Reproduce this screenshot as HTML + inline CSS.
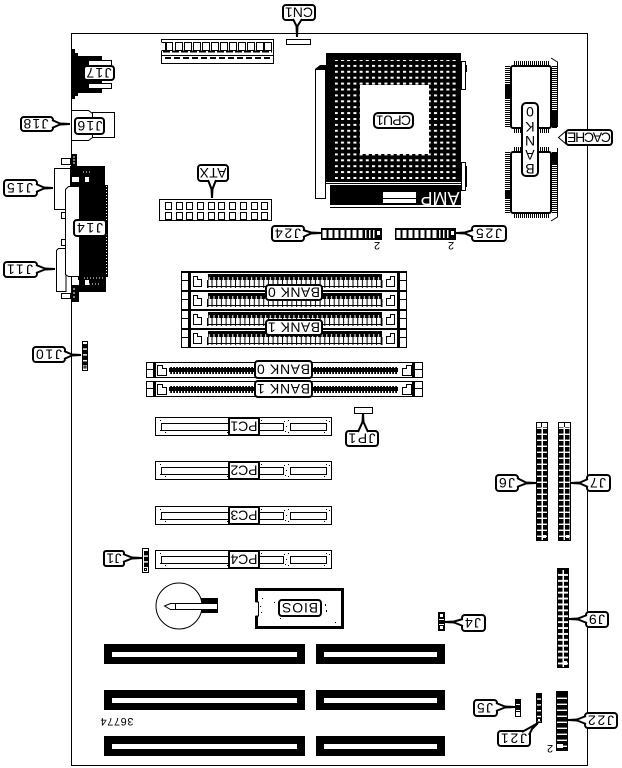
<!DOCTYPE html>
<html><head><meta charset="utf-8"><style>
html,body{margin:0;padding:0;background:#fff;width:622px;height:768px;overflow:hidden}
svg{display:block}
text{font-family:"Liberation Sans",sans-serif;font-size:14px;text-anchor:middle;fill:#000}
.l rect,.l path{fill:#fff;stroke:#000;stroke-width:2}
.o{fill:#fff;stroke:#000;stroke-width:1}
.n{fill:none;stroke:#000;stroke-width:1}
.k{fill:#000}
.w{fill:#fff}
</style></head><body>
<svg width="622" height="768" viewBox="0 0 622 768" xmlns="http://www.w3.org/2000/svg">
<defs>
<pattern id="dots" width="6.2" height="5.9" patternUnits="userSpaceOnUse"><rect width="3" height="2" fill="#fff"/></pattern>
<pattern id="p2" width="6" height="6" patternUnits="userSpaceOnUse"><rect width="6" height="6" fill="#fff"/><rect width="4.5" height="4.6" fill="#000"/></pattern>
<pattern id="p2b" width="6" height="5.9" patternUnits="userSpaceOnUse"><rect width="6" height="5.9" fill="#fff"/><rect width="4.5" height="4" fill="#000"/></pattern>
<pattern id="p1" width="6" height="5.8" patternUnits="userSpaceOnUse"><rect width="6" height="5.8" fill="#fff"/><rect width="6" height="4.4" fill="#000"/></pattern>
<pattern id="p3" width="12" height="6" patternUnits="userSpaceOnUse"><rect width="12" height="6" fill="#fff"/><rect width="12" height="4.6" fill="#000"/></pattern>
<pattern id="hd" width="6" height="8" patternUnits="userSpaceOnUse"><rect width="6" height="8" fill="#000"/><rect x="0.500" width="4" height="8" fill="#fff"/></pattern>
<pattern id="hd2" width="4" height="8" patternUnits="userSpaceOnUse"><rect width="4" height="8" fill="#000"/><rect x="1" width="1.500" height="8" fill="#fff"/></pattern>
<pattern id="dc" width="4.7" height="6" patternUnits="userSpaceOnUse"><rect width="4.7" height="6" fill="#000"/><rect x="2" y="0" width="1" height="3" fill="#fff"/></pattern>
<pattern id="ds" width="4.7" height="8" patternUnits="userSpaceOnUse"><rect width="4.7" height="8" fill="#fff"/><rect width="1" height="8" fill="#000"/><rect width="4.7" height="1" y="7" fill="#000"/></pattern>
<pattern id="sc" width="3" height="7" patternUnits="userSpaceOnUse"><rect width="3" height="7" fill="#000"/><rect x="1" y="3" width="1.2" height="3" fill="#fff"/></pattern>
<pattern id="pinv" width="2" height="6" patternUnits="userSpaceOnUse"><rect width="1" height="6" fill="#000"/><rect x="1" width="1" height="6" fill="#fff"/></pattern>
<pattern id="pinh" width="6" height="2" patternUnits="userSpaceOnUse"><rect width="6" height="1" fill="#000"/><rect y="1" width="6" height="1" fill="#fff"/></pattern>
<g id="dimm">
 <rect x="181.500" y="0.500" width="225" height="19" class="n"/>
 <rect x="181" y="0" width="226" height="2" class="k"/>
 <path class="n" d="M181 9.500H189M188.500 0V19M399.500 0V19M399 9.500H407"/>
 <rect x="189" y="1" width="2" height="18" class="k"/>
 <rect x="397" y="1" width="2" height="18" class="k"/>
 <path class="o" d="M193.500 5.500H197.500V8.500H201.500V15.500H193.500Z"/>
 <path class="o" d="M394.500 5.500H390.500V8.500H386.500V15.500H394.500Z"/>
 <rect x="208" y="3" width="174" height="6" fill="url(#dc)"/>
 <rect x="207" y="9" width="175" height="8" fill="url(#ds)"/>
 <rect x="207" y="9" width="1.500" height="8" class="k"/>
 <rect x="381" y="9" width="1.500" height="8" class="k"/>
</g>
<g id="simm">
 <rect x="146.500" y="0.500" width="276" height="15" class="o"/>
 <path class="n" d="M146 7.500H155M414 7.500H423"/>
 <rect x="153" y="1" width="3" height="14" class="k"/>
 <rect x="412" y="1" width="3" height="14" class="k"/>
 <path class="o" d="M157.500 3.500H162.500V6.500H166.500V13.500H157.500Z"/>
 <path class="o" d="M411.500 3.500H406.500V6.500H402.500V13.500H411.500Z"/>
 <rect x="169" y="5" width="229" height="7" fill="url(#sc)"/>
</g>
<g id="pci">
 <rect x="155.500" y="0.500" width="176" height="18" class="o"/>
 <rect x="161.500" y="6.500" width="67" height="7" class="o"/>
 <rect x="259.500" y="6.500" width="24" height="7" class="o"/>
 <rect x="290.500" y="6.500" width="36" height="7" class="o"/>
 <path d="M160 3h1v1h-1zM160 13h1v1h-1zM228 2h1v1h-1zM227 15h1v1h-1zM284 4h1v1h-1zM286 9h1v1h-1zM285 14h1v1h-1zM261 3h1v1h-1zM324 15h1v1h-1zM329 4h1v1h-1zM165 15h1v1h-1zM288 3h1v1h-1zM288 15h1v1h-1zM326 3h1v1h-1z" class="k"/>
</g>
</defs>

<!-- board outline -->
<path d="M71.500 33.500H587.500V765.500H71.500Z" fill="none" stroke="#000" stroke-width="1"/>

<!-- top connector -->
<rect x="161.500" y="39.500" width="112" height="24" class="o"/>
<rect x="161" y="42" width="4" height="9" class="w"/>
<path class="n" d="M161.500 42.500H165.500V50.500H161.500M161 55.500H274"/>
<g class="o">
<rect x="166.500" y="42.500" width="6" height="8"/><rect x="175.500" y="42.500" width="7" height="8"/><rect x="184.500" y="42.500" width="7" height="8"/><rect x="193.500" y="42.500" width="7" height="8"/><rect x="202.500" y="42.500" width="7" height="8"/><rect x="211.500" y="42.500" width="7" height="8"/><rect x="220.500" y="42.500" width="7" height="8"/><rect x="229.500" y="42.500" width="7" height="8"/><rect x="238.500" y="42.500" width="7" height="8"/><rect x="247.500" y="42.500" width="7" height="8"/><rect x="256.500" y="42.500" width="7" height="8"/><rect x="264.500" y="42.500" width="7" height="8"/>
</g>
<path d="M163 51.500H272" stroke="#000" stroke-width="2" stroke-dasharray="7 2" fill="none"/>
<path d="M165 58H272" stroke="#000" stroke-width="2" stroke-dasharray="6 3" fill="none"/>

<rect x="286.500" y="39.500" width="24" height="5" class="o"/>

<!-- J17 -->
<path class="k" d="M71 49H75V53H78V56H102V93H78V96H75V99H71Z"/>
<rect x="88.500" y="60.500" width="23" height="5" class="o"/>
<rect x="88.500" y="83.500" width="23" height="5" class="o"/>

<!-- J16 -->
<rect x="92.500" y="112.500" width="22" height="25" class="o"/>
<path class="o" d="M71.500 110.500H88.500L92.500 113.500V137.500L88.500 140.500H71.500Z"/>

<!-- J14/J15/J11 cluster -->
<path class="k" d="M78 166H105V185H108V277H106V292H78Z"/>
<rect x="72" y="154" width="5" height="13" class="k"/>
<rect x="70" y="166" width="10" height="20" class="k"/>
<rect x="72" y="285" width="7" height="17" class="k"/>
<path d="M106.500 186V276" stroke="#fff" stroke-width="1" stroke-dasharray="1 2" fill="none"/>
<path d="M83 172H92M84 278H104M86 284H100M83 236H106" stroke="#fff" stroke-width="1" stroke-dasharray="1 2" fill="none"/>
<rect x="72" y="177" width="7" height="5" class="w"/><rect x="85" y="177" width="4" height="5" class="w"/>
<rect x="72" y="280" width="7" height="5" class="w"/><rect x="85" y="280" width="4" height="5" class="w"/>
<path d="M73 157h2M73 160h2M73 163h2M73 289h2M73 293h2M73 297h2" stroke="#fff" stroke-width="1" fill="none"/>
<rect x="54.500" y="168.500" width="16" height="41" class="o"/>
<path class="o" d="M58.500 248.500H66V291.500H56.500V250.500Z"/>
<rect x="61.500" y="158.500" width="9" height="6" class="o"/>
<rect x="61.500" y="212.500" width="4" height="6" class="o"/>
<rect x="61.500" y="239.500" width="4" height="6" class="o"/>
<rect x="61.500" y="293.500" width="9" height="5" class="o"/>
<path d="M68.500 186.500H79.500V276.500H68.500L65.500 274.500V189.500Z" class="o"/>
<rect x="79" y="186" width="1.500" height="92" class="k"/>

<!-- J10 -->
<rect x="82.500" y="341.500" width="5" height="29" class="o"/>
<rect transform="translate(83,344)" width="4" height="21" fill="url(#p1)"/>
<rect x="84" y="366" width="2" height="2" class="o"/>

<!-- ATX -->
<rect x="159.500" y="199.500" width="112" height="21" class="o"/>
<g class="o">
<rect x="165.500" y="202.500" width="6" height="7"/><rect x="176.500" y="202.500" width="6" height="7"/><rect x="186.500" y="202.500" width="6" height="7"/><rect x="197.500" y="202.500" width="6" height="7"/><rect x="208.500" y="202.500" width="6" height="7"/><rect x="218.500" y="202.500" width="6" height="7"/><rect x="229.500" y="202.500" width="6" height="7"/><rect x="240.500" y="202.500" width="6" height="7"/><rect x="251.500" y="202.500" width="6" height="7"/><rect x="261.500" y="202.500" width="6" height="7"/>
<rect x="165.500" y="212.500" width="6" height="7"/><rect x="176.500" y="212.500" width="6" height="7"/><rect x="186.500" y="212.500" width="6" height="7"/><rect x="197.500" y="212.500" width="6" height="7"/><rect x="208.500" y="212.500" width="6" height="7"/><rect x="218.500" y="212.500" width="6" height="7"/><rect x="229.500" y="212.500" width="6" height="7"/><rect x="240.500" y="212.500" width="6" height="7"/><rect x="251.500" y="212.500" width="6" height="7"/><rect x="261.500" y="212.500" width="6" height="7"/>
</g>

<!-- CPU -->
<rect x="326" y="53" width="135" height="129" class="k"/>
<rect x="335" y="60" width="122" height="119" fill="url(#dots)"/>
<rect x="360" y="85" width="69" height="69" class="w"/>
<rect x="315.500" y="69.500" width="10" height="129" class="o"/>
<path class="k" d="M315 69L320 65H326V69Z"/>
<rect x="461.500" y="61.500" width="4" height="28" class="o"/>
<rect x="465" y="65" width="2" height="7" class="k"/>
<rect x="461.500" y="162.500" width="4" height="28" class="o"/>
<rect x="465" y="166" width="2" height="21" class="k"/>
<rect x="330" y="185" width="131" height="20" class="k"/>
<rect x="330" y="207" width="131" height="1" class="k"/>
<rect x="326" y="183" width="135" height="1" class="k"/>
<rect x="383" y="192" width="33" height="11" class="w"/>
<rect x="383" y="198" width="33" height="1" class="k"/>
<text transform="rotate(180 440 198)" x="440" y="204" style="fill:#fff;font-size:18px" textLength="39">AMP</text>

<!-- J24 J25 -->
<rect x="321" y="228" width="61" height="12" class="k"/>
<rect transform="translate(322,230)" width="42" height="8" fill="url(#hd)"/>
<rect transform="translate(364,230)" width="12" height="8" fill="url(#hd2)"/>
<rect x="377" y="231" width="3" height="4" class="w"/>
<rect x="395" y="228" width="61" height="12" class="k"/>
<rect transform="translate(396,230)" width="42" height="8" fill="url(#hd)"/>
<rect transform="translate(438,230)" width="12" height="8" fill="url(#hd2)"/>
<rect x="451" y="231" width="3" height="4" class="w"/>
<text transform="rotate(180 377 246)" x="377" y="250" style="font-size:11px">2</text>
<text transform="rotate(180 451 246)" x="451" y="250" style="font-size:11px">2</text>

<!-- cache chips -->
<rect x="505" y="66" width="5" height="62" fill="url(#pinh)"/>
<rect x="552" y="66" width="5" height="62" fill="url(#pinh)"/>
<rect x="505" y="152" width="5" height="61" fill="url(#pinh)"/>
<rect x="552" y="152" width="5" height="61" fill="url(#pinh)"/>
<rect x="513" y="61" width="37" height="4" fill="url(#pinv)"/>
<rect x="513" y="129" width="37" height="4" fill="url(#pinv)"/>
<rect x="513" y="147" width="37" height="4" fill="url(#pinv)"/>
<rect x="513" y="214" width="37" height="4" fill="url(#pinv)"/>
<rect x="505" y="85" width="5" height="14" class="k"/>
<rect x="552" y="110" width="5" height="18" class="k"/>
<rect x="505" y="190" width="5" height="8" class="k"/>
<rect x="552" y="152" width="5" height="12" class="k"/>
<rect x="511" y="66" width="40" height="62" rx="2" fill="#fff" stroke="#000" stroke-width="2"/>
<rect x="511" y="152" width="40" height="61" rx="2" fill="#fff" stroke="#000" stroke-width="2"/>
<path class="n" d="M551 58L557.500 62V127M557.500 148V217L551 221"/>
<path d="M566 131L558.500 137.500L566 144" fill="#fff" stroke="#000" stroke-width="1"/>

<!-- DIMM -->
<use href="#dimm" y="271"/><use href="#dimm" y="290"/><use href="#dimm" y="309"/><use href="#dimm" y="328"/>
<!-- SIMM -->
<use href="#simm" y="362"/><use href="#simm" y="381"/>
<!-- PCI -->
<use href="#pci" y="417"/><use href="#pci" y="461"/><use href="#pci" y="506"/><use href="#pci" y="550"/>

<!-- JP1 -->
<rect x="354.500" y="407.500" width="18" height="6" class="o"/>

<!-- J1 -->
<rect x="142.500" y="548.500" width="6" height="24" class="o"/>
<rect transform="translate(144,551)" width="4" height="17" fill="url(#p1)"/>
<rect x="144.500" y="568.500" width="2" height="2" class="o"/>

<!-- battery -->
<circle cx="179" cy="606" r="23" class="o"/>
<rect x="201" y="598" width="17" height="15" class="k"/>
<path class="o" d="M217.500 603.500H170.500L164.500 606L170.500 609.500H217.500Z"/>
<path class="n" d="M175.500 604V609"/>

<!-- BIOS -->
<rect x="256.500" y="589.500" width="86" height="38" fill="#fff" stroke="#000" stroke-width="3"/>
<rect x="255" y="602" width="3" height="14" class="w"/>
<path class="n" d="M255.500 602H258.500V616H255.500"/>
<path class="k" d="M260 606h1v1h-1zM261 612h1v1h-1zM262 598h1v1h-1zM274 602h1v1h-1zM325 604h1v2h-1zM326 610h1v2h-1zM335 622h1v1h-1zM280 618h1v1h-1z"/>

<!-- ISA slots -->
<g class="k">
<path fill-rule="evenodd" d="M104 644H305V664H104ZM112 652V657H297V652Z"/>
<path fill-rule="evenodd" d="M316 644H445V664H316ZM324 652V657H437V652Z"/>
<path fill-rule="evenodd" d="M104 690H305V710H104ZM112 698V703H297V698Z"/>
<path fill-rule="evenodd" d="M316 690H445V710H316ZM324 698V703H437V698Z"/>
<path fill-rule="evenodd" d="M104 736H305V756H104ZM112 744V749H297V744Z"/>
<path fill-rule="evenodd" d="M316 736H445V756H316ZM324 744V749H437V744Z"/>
</g>
<text transform="rotate(180 117 722)" x="117" y="726" style="font-size:11px" textLength="33">36774</text>

<!-- J6 J7 J9 -->
<rect x="536" y="422" width="12" height="119" class="k"/>
<rect transform="translate(537,423)" width="10" height="117" fill="url(#p2)"/>
<rect x="537" y="423" width="10" height="4" class="w"/><path class="n" d="M541.500 423V427"/>
<rect x="543" y="535" width="3" height="3" class="w"/>
<rect x="558" y="422" width="13" height="119" class="k"/>
<rect transform="translate(559,423)" width="11" height="117" fill="url(#p2)"/>
<rect x="559" y="423" width="11" height="4" class="w"/><path class="n" d="M564.500 423V427"/>
<rect x="566" y="535" width="3" height="3" class="w"/>
<rect x="557" y="568" width="12" height="100" class="k"/>
<rect transform="translate(558,570)" width="10" height="97" fill="url(#p2b)"/>
<rect x="564" y="661" width="3" height="4" class="w"/>

<!-- J4 J5 J21 J22 -->
<rect x="438" y="612" width="7" height="19" class="k"/>
<rect x="440" y="614" width="3" height="3" class="w"/>
<rect x="439" y="619" width="5" height="1" class="w"/><rect x="439" y="624" width="5" height="1" class="w"/>
<rect x="440" y="626" width="3" height="3" class="w"/>
<rect x="515" y="699" width="6" height="18" class="k"/>
<rect x="516" y="704" width="4" height="1" class="w"/><rect x="516" y="710" width="4" height="1" class="w"/>
<rect x="516" y="712" width="4" height="4" class="w"/>
<rect x="536" y="693" width="6" height="30" class="k"/>
<rect transform="translate(537,694)" width="4" height="28" fill="url(#p1)"/>
<rect x="538" y="719" width="2" height="2" class="w"/>
<rect x="556" y="691" width="12" height="60" class="k"/>
<rect transform="translate(557,693)" width="10" height="56" fill="url(#p3)"/>
<rect x="557" y="744" width="6" height="4" class="w"/>
<text transform="rotate(180 550 749)" x="550" y="753" style="font-size:11px">2</text>

<!-- labels -->
<g class="l">
<rect x="283" y="5" width="32" height="15" rx="3"/><path d="M293 19L296.500 26L297 37L297.500 26L302 19"/><text transform="rotate(180 299 12.500)" x="299" y="17.500" textLength="28">CN1</text>
<rect x="84" y="66" width="30" height="14" rx="3"/><text transform="rotate(180 99 73)" x="99" y="78" textLength="25">J17</text>
<rect x="75" y="118" width="29" height="16" rx="3"/><text transform="rotate(180 90 126)" x="90" y="131" textLength="25">J16</text>
<rect x="21" y="117" width="32" height="14" rx="3"/><path d="M52 120L60 123.500L70 124L60 124.500L52 128"/><text transform="rotate(180 36 124)" x="36" y="129" textLength="25">J18</text>
<rect x="4" y="180" width="33" height="16" rx="3"/><path d="M36 184L44 187.500L53 188L44 188.500L36 192"/><text transform="rotate(180 20 188)" x="20" y="193" textLength="26">J15</text>
<rect x="74" y="220" width="32" height="16" rx="3"/><text transform="rotate(180 90 228)" x="90" y="233" textLength="26">J14</text>
<rect x="4" y="262" width="33" height="15" rx="3"/><path d="M36 265L45 268.500L55 269L45 269.500L36 273"/><text transform="rotate(180 20 269.500)" x="20" y="274.500" textLength="26">J11</text>
<rect x="33" y="347" width="32" height="15" rx="3"/><path d="M64 351L72 354.500L81 355L72 355.500L64 359"/><text transform="rotate(180 49 354.500)" x="49" y="359.500" textLength="26">J10</text>
<rect x="198" y="165" width="30" height="16" rx="3"/><path d="M208 180L211.500 189L212 198L212.500 189L216 180"/><text transform="rotate(180 213 173)" x="213" y="178" textLength="27">ATX</text>
<rect x="272" y="226" width="32" height="15" rx="3"/><path d="M303 230L311 232.500L321 233L311 233.500L303 237"/><text transform="rotate(180 288 233.500)" x="288" y="238.500" textLength="26">J24</text>
<rect x="472" y="226" width="34" height="15" rx="3"/><path d="M473 230L465 232.500L456 233L465 233.500L473 237"/><text transform="rotate(180 489 233.500)" x="489" y="238.500" textLength="26">J25</text>
<rect x="374" y="113" width="39" height="15" rx="4"/><text transform="rotate(180 393.500 120.500)" x="393.500" y="125.500" textLength="35">CPU1</text>
<rect x="566" y="130" width="46" height="15" rx="3"/><text transform="rotate(180 589 137.500)" x="589" y="142.500" textLength="44">CACHE</text>
<rect x="522" y="103" width="16" height="73" rx="4"/>
<text transform="rotate(180 530 112)" x="530" y="117">0</text>
<text transform="rotate(180 530 127)" x="530" y="132">K</text>
<text transform="rotate(180 530 141)" x="530" y="146">N</text>
<text transform="rotate(180 530 155)" x="530" y="160">A</text>
<text transform="rotate(180 530 169)" x="530" y="174">B</text>
<rect x="266" y="285" width="56" height="15" rx="3"/><text transform="rotate(180 294 292.500)" x="294" y="297.500" textLength="52">BANK 0</text>
<rect x="266" y="320" width="56" height="15" rx="3"/><text transform="rotate(180 294 327.500)" x="294" y="332.500" textLength="52">BANK 1</text>
<rect x="255" y="361" width="57" height="17" rx="3"/><text transform="rotate(180 283.500 369.500)" x="283.500" y="374.500" textLength="53">BANK 0</text>
<rect x="255" y="381" width="57" height="16" rx="3"/><text transform="rotate(180 283.500 389)" x="283.500" y="394" textLength="53">BANK 1</text>
<rect x="229" y="418" width="30" height="17" rx="1"/><text transform="rotate(180 244 426.500)" x="244" y="431.500" textLength="27">PC1</text>
<rect x="229" y="462" width="30" height="17" rx="1"/><text transform="rotate(180 244 470.500)" x="244" y="475.500" textLength="27">PC2</text>
<rect x="229" y="507" width="30" height="17" rx="1"/><text transform="rotate(180 244 515.500)" x="244" y="520.500" textLength="27">PC3</text>
<rect x="229" y="551" width="30" height="17" rx="1"/><text transform="rotate(180 244 559.500)" x="244" y="564.500" textLength="27">PC4</text>
<rect x="279" y="600" width="42" height="16" rx="3"/><text transform="rotate(180 300 608)" x="300" y="613" textLength="36">BIOS</text>
<rect x="346" y="431" width="32" height="15" rx="3"/><path d="M358 432L362.500 422L363 413L363.500 422L368 432"/><text transform="rotate(180 362 438.500)" x="362" y="443.500" textLength="27">JP1</text>
<rect x="104" y="551" width="20" height="15" rx="2"/><path d="M123 554L132 557.500L142 558L132 558.500L123 562"/><text transform="rotate(180 114 558.500)" x="114" y="563.500" textLength="15">J1</text>
<rect x="496" y="475" width="22" height="16" rx="3"/><path d="M517 478L526 482.500L536 483L526 483.500L517 487"/><text transform="rotate(180 507 483)" x="507" y="488" textLength="16">J6</text>
<rect x="587" y="475" width="23" height="16" rx="3"/><path d="M588 479L580 482.500L571 483L580 483.500L588 487"/><text transform="rotate(180 598 483)" x="598" y="488" textLength="16">J7</text>
<rect x="586" y="612" width="22" height="15" rx="3"/><path d="M587 615L578 618.500L569 619L578 619.500L587 623"/><text transform="rotate(180 597 619.500)" x="597" y="624.500" textLength="16">J9</text>
<rect x="462" y="615" width="23" height="16" rx="3"/><path d="M463 619L454 621.500L445 622L454 622.500L463 626"/><text transform="rotate(180 473 623)" x="473" y="628" textLength="16">J4</text>
<rect x="474" y="700" width="23" height="16" rx="3"/><path d="M496 703L505 706.500L515 707L505 707.500L496 711"/><text transform="rotate(180 485 708)" x="485" y="713" textLength="16">J5</text>
<rect x="498" y="731" width="32" height="15" rx="3"/><path d="M522 732L531 727L538 723L532 729L529 735"/><text transform="rotate(180 514 738.500)" x="514" y="743.500" textLength="26">J21</text>
<rect x="585" y="713" width="32" height="15" rx="3"/><path d="M586 716L577 719.500L568 720L577 720.500L586 724"/><text transform="rotate(180 601 720.500)" x="601" y="725.500" textLength="26">J22</text>
</g>
</svg>
</body></html>
